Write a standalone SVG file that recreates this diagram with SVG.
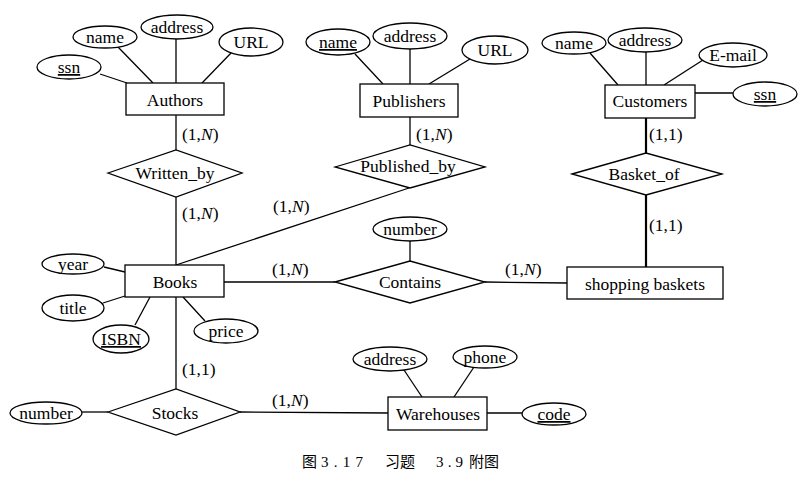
<svg xmlns="http://www.w3.org/2000/svg" width="802" height="484" viewBox="0 0 802 484" font-family="'Liberation Serif', serif">
<style>
.e{fill:#fff;stroke:#000;stroke-width:1.3}
.b{fill:#fff;stroke:#000;stroke-width:1.3}
.c line{stroke:#000;stroke-width:1.3}
.c line.t{stroke-width:2.2}
text{font-family:"Liberation Serif","Times New Roman",serif;font-size:17.5px;fill:#000}
.m{text-anchor:middle}
.u{text-decoration:underline}
.cap{font-size:15px;font-family:"Liberation Serif","Noto Sans CJK SC",serif}
</style>
<rect width="802" height="484" fill="#fff"/>
<g id="connectors" class="c">
<line x1="100" y1="74" x2="127" y2="83"/>
<line x1="118" y1="47" x2="153" y2="83"/>
<line x1="176" y1="39" x2="176" y2="83"/>
<line x1="232" y1="52" x2="202" y2="83"/>
<line x1="176" y1="115" x2="176" y2="150"/>
<line x1="176" y1="197" x2="176" y2="265"/>
<line x1="355" y1="54" x2="383" y2="84"/>
<line x1="410" y1="49" x2="410" y2="84"/>
<line x1="470" y1="59" x2="429" y2="84"/>
<line x1="410" y1="117" x2="410" y2="145"/>
<line x1="409" y1="188" x2="176" y2="265"/>
<line x1="590" y1="53" x2="618" y2="85"/>
<line x1="646" y1="52" x2="646" y2="85"/>
<line x1="703" y1="60" x2="664" y2="85"/>
<line x1="695" y1="93" x2="733" y2="93"/>
<line class="t" x1="646" y1="118" x2="646" y2="153"/>
<line class="t" x1="646" y1="195" x2="646" y2="267"/>
<line x1="104" y1="267" x2="125" y2="272"/>
<line x1="103" y1="303" x2="125" y2="296"/>
<line x1="135" y1="325" x2="150" y2="297"/>
<line x1="205" y1="321" x2="183" y2="297"/>
<line x1="224" y1="282" x2="335" y2="282"/>
<line x1="410" y1="241" x2="410" y2="261"/>
<line x1="485" y1="282" x2="567" y2="283"/>
<line x1="176" y1="297" x2="176" y2="389"/>
<line x1="82" y1="412" x2="108" y2="412"/>
<line x1="240" y1="412" x2="388" y2="413"/>
<line x1="404" y1="370" x2="422" y2="397"/>
<line x1="474" y1="367" x2="454" y2="397"/>
<line x1="487" y1="413" x2="522" y2="413"/>
</g>
<g id="labels">
<text x="182" y="140">(1,<tspan font-style="italic">N</tspan>)</text>
<text x="182" y="219">(1,<tspan font-style="italic">N</tspan>)</text>
<text x="273" y="212">(1,<tspan font-style="italic">N</tspan>)</text>
<text x="416" y="140">(1,<tspan font-style="italic">N</tspan>)</text>
<text x="649" y="140">(1,1)</text>
<text x="649" y="231">(1,1)</text>
<text x="272" y="275">(1,<tspan font-style="italic">N</tspan>)</text>
<text x="505" y="275">(1,<tspan font-style="italic">N</tspan>)</text>
<text x="182" y="375">(1,1)</text>
<text x="272" y="406">(1,<tspan font-style="italic">N</tspan>)</text>
</g>
<g id="Authors">
<rect class="b" x="126" y="83" width="98" height="32"/>
<text class="m" x="175" y="106">Authors</text>
</g>
<g id="Authors_ssn"><ellipse class="e" cx="69" cy="67" rx="32" ry="12"/><text class="m u" x="69" y="73">ssn</text></g>
<g id="Authors_name"><ellipse class="e" cx="105" cy="37" rx="32" ry="11"/><text class="m" x="105" y="43">name</text></g>
<g id="Authors_address"><ellipse class="e" cx="177" cy="27" rx="36" ry="12"/><text class="m" x="177" y="33">address</text></g>
<g id="Authors_URL"><ellipse class="e" cx="251" cy="42" rx="32" ry="14"/><text class="m" x="251" y="48">URL</text></g>
<g id="Written_by">
<polygon class="b" points="108,173 176,150 242,173 176,197"/>
<text class="m" x="175" y="179">Written_by</text>
</g>
<g id="Publishers">
<rect class="b" x="360" y="84" width="98" height="33"/>
<text class="m" x="409" y="107">Publishers</text>
</g>
<g id="Publishers_name"><ellipse class="e" cx="338" cy="42" rx="32" ry="13"/><text class="m u" x="338" y="48">name</text></g>
<g id="Publishers_address"><ellipse class="e" cx="410" cy="36" rx="37" ry="13"/><text class="m" x="410" y="42">address</text></g>
<g id="Publishers_URL"><ellipse class="e" cx="495" cy="50" rx="33" ry="14"/><text class="m" x="495" y="56">URL</text></g>
<g id="Published_by">
<polygon class="b" points="335,167 410,145 485,167 410,188"/>
<text class="m" x="408" y="172">Published_by</text>
</g>
<g id="Customers">
<rect class="b" x="605" y="85" width="90" height="33"/>
<text class="m" x="650" y="107">Customers</text>
</g>
<g id="Customers_name"><ellipse class="e" cx="574" cy="43" rx="32" ry="11"/><text class="m" x="574" y="49">name</text></g>
<g id="Customers_address"><ellipse class="e" cx="645" cy="40" rx="37" ry="12"/><text class="m" x="645" y="46">address</text></g>
<g id="Customers_Email"><ellipse class="e" cx="733" cy="55" rx="34" ry="12"/><text class="m" x="733" y="61">E-mail</text></g>
<g id="Customers_ssn"><ellipse class="e" cx="765" cy="94" rx="32" ry="12"/><text class="m u" x="765" y="100">ssn</text></g>
<g id="Basket_of">
<polygon class="b" points="572,174 646,153 722,174 646,195"/>
<text class="m" x="644" y="180">Basket_of</text>
</g>
<g id="Books">
<rect class="b" x="125" y="265" width="99" height="32"/>
<text class="m" x="175" y="288">Books</text>
</g>
<g id="Books_year"><ellipse class="e" cx="73" cy="264" rx="31" ry="10"/><text class="m" x="73" y="270">year</text></g>
<g id="Books_title"><ellipse class="e" cx="73" cy="308" rx="31" ry="13"/><text class="m" x="73" y="314">title</text></g>
<g id="Books_ISBN"><ellipse class="e" cx="121" cy="339" rx="28" ry="14"/><text class="m u" x="121" y="345">ISBN</text></g>
<g id="Books_price"><ellipse class="e" cx="226" cy="331" rx="32" ry="12"/><text class="m" x="226" y="337">price</text></g>
<g id="Contains">
<polygon class="b" points="335,282 410,261 485,282 410,303"/>
<text class="m" x="410" y="288">Contains</text>
</g>
<g id="Contains_number"><ellipse class="e" cx="410" cy="229" rx="37" ry="12"/><text class="m" x="410" y="235">number</text></g>
<g id="Shopping_baskets">
<rect class="b" x="567" y="267" width="156" height="32"/>
<text class="m" x="645" y="290">shopping baskets</text>
</g>
<g id="Stocks">
<polygon class="b" points="108,412 176,389 240,412 176,435"/>
<text class="m" x="175" y="419">Stocks</text>
</g>
<g id="Stocks_number"><ellipse class="e" cx="46" cy="413" rx="36" ry="11"/><text class="m" x="46" y="419">number</text></g>
<g id="Warehouses">
<rect class="b" x="388" y="397" width="99" height="33"/>
<text class="m" x="438" y="420">Warehouses</text>
</g>
<g id="Warehouses_address"><ellipse class="e" cx="390" cy="359" rx="37" ry="12"/><text class="m" x="390" y="365">address</text></g>
<g id="Warehouses_phone"><ellipse class="e" cx="485" cy="357" rx="32" ry="11"/><text class="m" x="485" y="363">phone</text></g>
<g id="Warehouses_code"><ellipse class="e" cx="554" cy="414" rx="32" ry="11"/><text class="m u" x="554" y="420">code</text></g>
<g id="caption">
<text class="cap" y="467"><tspan x="302">图</tspan><tspan x="321" textLength="42" lengthAdjust="spacing">3.17</tspan><tspan x="385">习题</tspan><tspan x="436" textLength="27" lengthAdjust="spacing">3.9</tspan><tspan x="469">附图</tspan></text>
</g>
</svg>
